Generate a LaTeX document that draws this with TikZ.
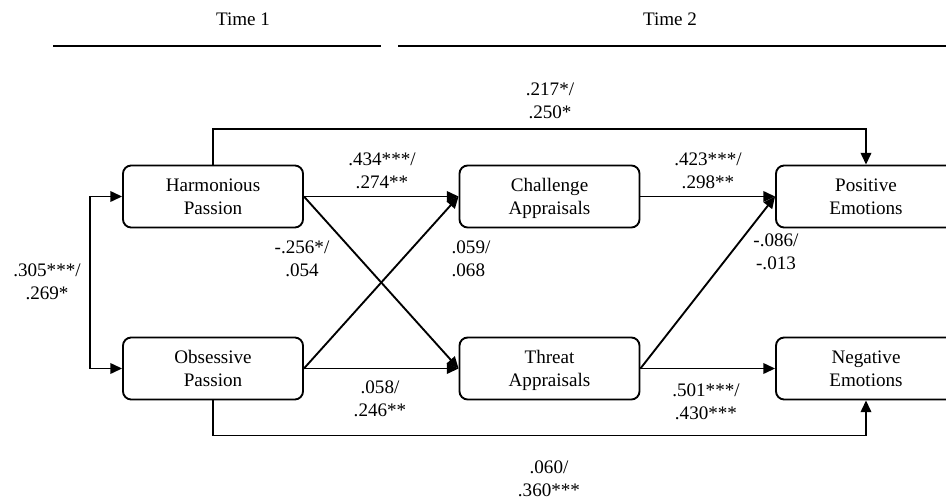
\documentclass[tikz,border=0pt]{standalone}
\usepackage{fontspec}
\setmainfont{Liberation Serif}
\usetikzlibrary{positioning,arrows.meta}

% two text lines with fixed height and depth
\newcommand{\twoline}[2]{\rule{0pt}{15.7pt}#1\\#2\rule[-5pt]{0pt}{5pt}}

\begin{document}
\begin{tikzpicture}[
    x=0.03cm, y=-0.03cm,
    font=\fontsize{16.3}{19.5}\selectfont,
    box/.style={draw, line width=1.6pt, rounded corners=7pt, minimum width=5.4cm, minimum height=1.86cm, align=center, inner sep=0pt},
    link/.style={draw, line width=1.6pt, -{Triangle[length=10pt,width=9pt]}},
    coef/.style={align=center, inner sep=1pt}
]
\useasboundingbox (0,0) rectangle (946,502);
\clip (0,0) rectangle (946,502);

% Time headings
\node (t1) at (243,19) {Time 1};
\node (t2) at (670,19) {Time 2};
\coordinate (t1a) at (53,46);
\coordinate (t1b) at (381,46);
\coordinate (t2a) at (398,46);
\coordinate (t2b) at (946,46);
\draw[line width=1.6pt] (t1a) -- (t1b);
\draw[line width=1.6pt] (t2a) -- (t2b);

% Define node positions
\node[box] (HP) at (213,196.5) {\twoline{Harmonious}{Passion}};
\node[box] (OP) at (213,368.5) {\twoline{Obsessive}{Passion}};
\node[box] (CA) at (549.5,196.5) {\twoline{Challenge}{Appraisals}};
\node[box] (TA) at (549.5,368.5) {\twoline{Threat}{Appraisals}};
\node[box] (PE) at (866,196.5) {\twoline{Positive}{Emotions}};
\node[box] (NE) at (866,368.5) {\twoline{Negative}{Emotions}};

% Draw paths
\coordinate (lft) at (90,282);
\draw[link, {Triangle[length=10pt,width=9pt]}-{Triangle[length=10pt,width=9pt]}] (HP.west) -| (lft) |- (OP.west);
\draw[link] (HP.north) -- ++(0,-36) -| (PE.north);
\draw[link] (OP.south) -- ++(0,35) -| (NE.south);
\draw[link] (HP.east) -- (CA.west);
\draw[link] (HP.east) -- (TA.west);
\draw[link] (OP.east) -- (CA.west);
\draw[link] (OP.east) -- (TA.west);
\draw[link] (CA.east) -- (PE.west);
\draw[link] (TA.east) -- (PE.west);
\draw[link] (TA.east) -- (NE.west);

% Path coefficients
\node[coef] (c1) at (550,101) {.217*/\\.250*};
\node[coef] (c2) at (382,171) {.434***/\\.274**};
\node[coef] (c3) at (708,171) {.423***/\\.298**};
\node[coef] (c4) at (47,282) {.305***/\\.269*};
\node[coef] (c5) at (302,259) {-.256*/\\.054};
\node[coef, align=left] (c6) at (471,259) {.059/\\.068};
\node[coef] (c7) at (776,252) {-.086/\\-.013};
\node[coef] (c8) at (380,399) {.058/\\.246**};
\node[coef] (c9) at (706,402) {.501***/\\.430***};
\node[coef] (c10) at (549,479) {.060/\\.360***};

\end{tikzpicture}
\end{document}
